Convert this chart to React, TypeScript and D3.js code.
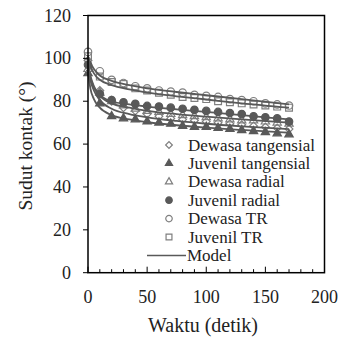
import React from "react";
import * as d3 from "d3";

// waktu pengamatan (detik)
const time = [0, 10, 20, 30, 40, 50, 60, 70, 80, 90, 100, 110, 120, 130, 140, 150, 160, 170];
const modelTime = [0, 2, 5, 10, 20, 35, 50, 75, 100, 130, 170];

const dewasaTangensial = [99, 85, 80, 77, 75.5, 74, 73, 72, 71.5, 71, 70.5, 70, 69.5, 69, 68.5, 68, 67.5, 67];
const juvenilTangensial = [93, 79, 73, 72, 71.5, 70.5, 70, 69.5, 68.5, 68, 68, 67.5, 67, 66.5, 66, 65.5, 65, 64.5];
const dewasaRadial = [95, 84, 80, 78, 76.5, 75.5, 75, 74, 73.5, 73, 72.5, 72, 71.5, 71, 71, 70.5, 70, 69.5];
const juvenilRadial = [97, 83.5, 80.5, 79.5, 78.8, 77.8, 77.5, 77, 76.5, 76, 75.5, 75, 74.5, 74, 73, 72.5, 72, 70.5];
const dewasaTR = [103, 94, 90, 88.5, 87, 86, 85, 84.5, 84, 83, 82.5, 82, 81, 80.5, 80, 79, 78.5, 78];
const juvenilTR = [101, 91.5, 89, 88, 86, 85, 84, 83, 82, 81.5, 81, 80, 79.5, 79, 78.5, 78, 77.5, 77];

const modelDewasaTangensial = [97, 90, 85, 80.5, 76.5, 74, 72.5, 70.8, 69.5, 68.3, 67];
const modelJuvenilTangensial = [94, 86, 81, 77, 73.5, 71.5, 70.2, 68.8, 67.7, 66.6, 65.3];
const modelDewasaRadial = [96, 91, 86.5, 82.5, 79, 77, 75.5, 74, 72.8, 71.5, 70];
const modelJuvenilRadial = [98, 92, 87, 83, 80, 78.5, 77.5, 76.2, 75, 73.5, 71.5];
const modelDewasaTR = [101, 98, 95, 92, 89.5, 87.5, 86, 84.3, 82.8, 81, 78.5];
const modelJuvenilTR = [100, 96.5, 93, 90, 87.5, 85.5, 84, 82.3, 80.8, 79, 77];

const xTicks = [0, 50, 100, 150, 200];
const yTicks = [0, 20, 40, 60, 80, 100, 120];

const dark = "#595959";
const light = "#7f7f7f";

const series = [
  { name: "Dewasa tangensial", values: dewasaTangensial, shape: "diamond", filled: false },
  { name: "Juvenil tangensial", values: juvenilTangensial, shape: "triangle", filled: true },
  { name: "Dewasa radial", values: dewasaRadial, shape: "triangle", filled: false },
  { name: "Juvenil radial", values: juvenilRadial, shape: "circle", filled: true },
  { name: "Dewasa TR", values: dewasaTR, shape: "circle", filled: false },
  { name: "Juvenil TR", values: juvenilTR, shape: "square", filled: false },
];
const models = [
  modelDewasaTangensial,
  modelJuvenilTangensial,
  modelDewasaRadial,
  modelJuvenilRadial,
  modelDewasaTR,
  modelJuvenilTR,
];

const symbolPath = (shape: string, scale: number) => {
  const types: any = {
    diamond: [d3.symbolSquare, 30],
    triangle: [d3.symbolTriangle, 30],
    circle: [d3.symbolCircle, 44],
    square: [d3.symbolSquare, 46],
  };
  const [t, s] = types[shape];
  return d3.symbol().type(t).size(s * scale)() as string;
};

const Marker = ({ shape, filled, x, y, scale }: any) => (
  <path
    d={symbolPath(shape, scale)}
    transform={`translate(${x},${y})${shape === "diamond" ? " rotate(45)" : ""}`}
    fill={filled ? dark : "none"}
    stroke={filled ? dark : light}
    strokeWidth={1.2}
  />
);

const App = () => {
  const left = 88, right = 324.5, top = 15.5, bottom = 272.7;
  const x = d3.scaleLinear().domain([0, 200]).range([left, right]);
  const y = d3.scaleLinear().domain([0, 120]).range([bottom, top]);
  const line = d3
    .line<number>()
    .x((_, i) => x(modelTime[i]))
    .y((d) => y(d))
    .curve(d3.curveMonotoneX);

  const font = '"Liberation Serif", "DejaVu Serif", serif';
  const minor = d3.range(0, 201, 10);

  return (
    <svg width={342} height={338} style={{ position: "absolute", left: 0, top: 0, fontFamily: font }}>
      <rect width={342} height={338} fill="#fff" />

      {series.map((s) =>
        s.values.map((v, i) => (
          <Marker key={s.name + i} shape={s.shape} filled={s.filled} x={x(time[i])} y={y(v)} scale={1} />
        ))
      )}
      {models.map((m, i) => (
        <path key={i} d={line(m) as string} fill="none" stroke={dark} strokeWidth={1.8} />
      ))}

      {/* plot frame */}
      <rect x={left} y={top} width={right - left} height={bottom - top} fill="none" stroke="#000" strokeWidth={1.5} />

      {/* x ticks (inside) */}
      {minor.map((t) => (
        <line key={t} x1={x(t)} x2={x(t)} y1={bottom} y2={bottom - (t % 50 === 0 ? 6 : 3.5)} stroke="#000" strokeWidth={1} />
      ))}
      {xTicks.map((t) => (
        <text key={t} x={x(t)} y={303} fontSize={18} textAnchor="middle" fill="#222">
          {t}
        </text>
      ))}
      {/* y ticks (outside) */}
      {yTicks.map((t) => (
        <g key={t}>
          <line x1={left - 5} x2={left} y1={y(t)} y2={y(t)} stroke="#000" strokeWidth={1} />
          <text x={71} y={y(t) + 6} fontSize={18} textAnchor="end" fill="#222">
            {t}
          </text>
        </g>
      ))}

      <text x={203} y={332} fontSize={20} textAnchor="middle" fill="#222">
        Waktu (detik)
      </text>
      <text transform="translate(32,146) rotate(-90)" fontSize={19.5} textAnchor="middle" fill="#222">
        Sudut kontak (°)
      </text>

      {/* legend */}
      {series.map((s, i) => (
        <g key={s.name}>
          <Marker shape={s.shape} filled={s.filled} x={169} y={145 + i * 18.4} scale={0.75} />
          <text x={188} y={145 + i * 18.4 + 5.5} fontSize={17} fill="#222">
            {s.name}
          </text>
        </g>
      ))}
      <line x1={147} x2={186} y1={255.5} y2={255.5} stroke={dark} strokeWidth={1.5} />
      <text x={187} y={261} fontSize={17} fill="#222">
        Model
      </text>
    </svg>
  );
};

export default App;
